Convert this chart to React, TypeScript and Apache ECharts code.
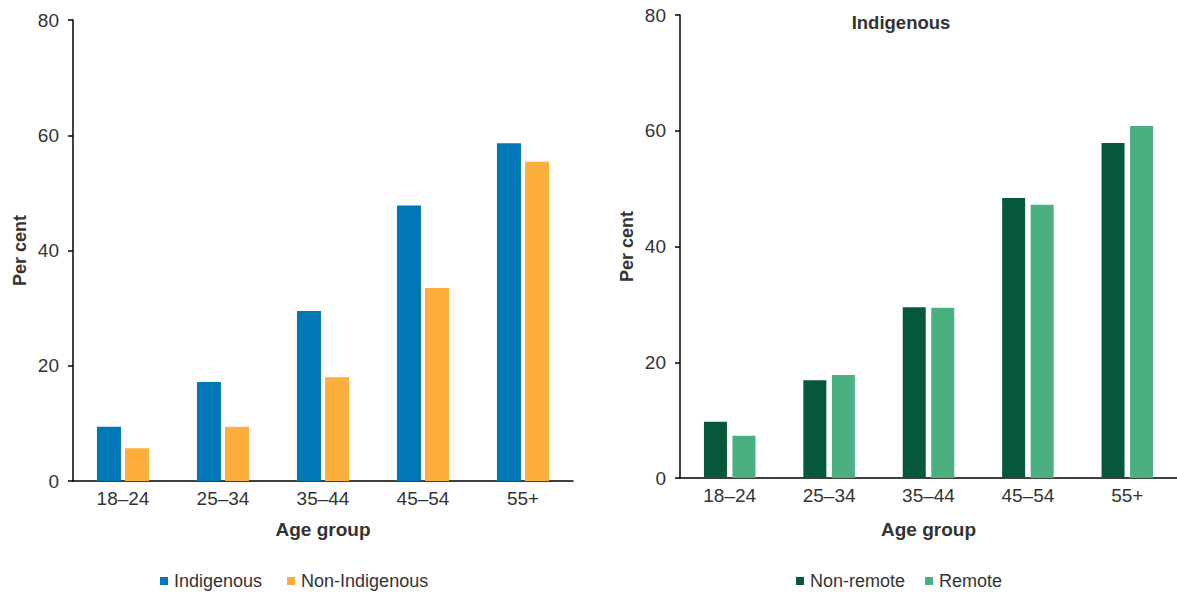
import React, { useEffect, useRef } from "react";
import * as echarts from "echarts";

const ageGroups = ["18–24", "25–34", "35–44", "45–54", "55+"];
const indigenous = [9.4, 17.2, 29.5, 47.8, 58.6];
const nonIndigenous = [5.7, 9.4, 18.0, 33.5, 55.4];
const nonRemote = [9.7, 16.9, 29.5, 48.4, 57.9];
const remote = [7.3, 17.8, 29.4, 47.2, 60.8];
const yTicks = [0, 20, 40, 60, 80];

const FONT = "'Liberation Sans', Arial, sans-serif";
const TXT = "#333333";

export default function App() {
  const ref = useRef<HTMLDivElement>(null);
  useEffect(() => {
    document.body.style.margin = "0";
    const chart = echarts.init(ref.current!, null, { renderer: "svg" });
    const xAxisBase = (gridIndex: number, gap: number) => ({
      type: "category",
      gridIndex,
      data: ageGroups,
      name: "Age group",
      nameLocation: "middle",
      nameGap: gap,
      nameTextStyle: { fontFamily: FONT, fontSize: 19, fontWeight: "bold", color: TXT },
      axisLine: { lineStyle: { color: "#000", width: 1.5 } },
      axisTick: { show: false },
      axisLabel: { fontFamily: FONT, fontSize: 19, color: TXT, margin: 8 },
    });
    const yAxisBase = (gridIndex: number) => ({
      type: "value",
      gridIndex,
      min: yTicks[0],
      max: yTicks[yTicks.length - 1],
      interval: yTicks[1] - yTicks[0],
      name: "Per cent",
      nameLocation: "middle",
      nameGap: 44,
      nameTextStyle: { fontFamily: FONT, fontSize: 18, fontWeight: "bold", color: TXT },
      axisLine: { show: true, lineStyle: { color: "#000", width: 1.5 } },
      axisTick: { show: true, length: 5, lineStyle: { color: "#000", width: 1.5 } },
      splitLine: { show: false },
      axisLabel: { fontFamily: FONT, fontSize: 19, color: TXT, margin: 14 },
    });
    chart.setOption({
      animation: false,
      textStyle: { fontFamily: FONT },
      title: {
        text: "Indigenous",
        left: 896,
        top: 8,
        textAlign: "center",
        textStyle: { fontFamily: FONT, fontSize: 18.5, fontWeight: "bold", color: TXT },
      },
      grid: [
        { left: 73, top: 20, width: 500, height: 461 },
        { left: 680, top: 15, width: 497, height: 463 },
      ],
      xAxis: [xAxisBase(0, 39), xAxisBase(1, 42)],
      yAxis: [yAxisBase(0), yAxisBase(1)],
      legend: [
        {
          data: ["Indigenous", "Non-Indigenous"],
          left: 155,
          top: 567,
          itemWidth: 8,
          itemHeight: 8,
          itemGap: 25,
          icon: "rect",
          textStyle: { fontFamily: FONT, fontSize: 18, color: TXT, padding: [0, 0, 0, 1] },
        },
        {
          data: ["Non-remote", "Remote"],
          left: 791,
          top: 567,
          itemWidth: 8,
          itemHeight: 8,
          itemGap: 20,
          icon: "rect",
          textStyle: { fontFamily: FONT, fontSize: 18, color: TXT, padding: [0, 0, 0, 1] },
        },
      ],
      series: [
        { name: "Indigenous", type: "bar", xAxisIndex: 0, yAxisIndex: 0, data: indigenous, barWidth: 24, barGap: "17%", itemStyle: { color: "#0077B6" } },
        { name: "Non-Indigenous", type: "bar", xAxisIndex: 0, yAxisIndex: 0, data: nonIndigenous, barWidth: 24, barGap: "17%", itemStyle: { color: "#FDAE3D" } },
        { name: "Non-remote", type: "bar", xAxisIndex: 1, yAxisIndex: 1, data: nonRemote, barWidth: 23, barGap: "24%", itemStyle: { color: "#05593A" } },
        { name: "Remote", type: "bar", xAxisIndex: 1, yAxisIndex: 1, data: remote, barWidth: 23, barGap: "24%", itemStyle: { color: "#4BB07F" } },
      ],
    });
    return () => chart.dispose();
  }, []);
  return <div ref={ref} style={{ width: 1177, height: 594 }} />;
}
